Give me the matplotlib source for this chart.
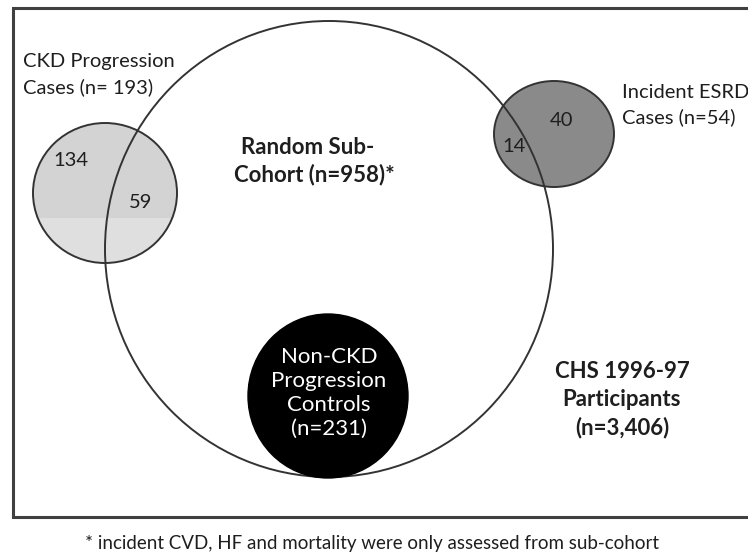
import matplotlib
matplotlib.use("Agg")
import matplotlib.pyplot as plt
from matplotlib.patches import Ellipse, Rectangle

plt.rcParams['font.family'] = ['Lato', 'DejaVu Sans']

# counts shown in the diagram
ckd_only = 134
ckd_in_subcohort = 59
esrd_in_subcohort = 14
esrd_only = 40
n_ckd = 193
n_esrd = 54
n_subcohort = 958
n_controls = 231
n_total = "3,406"
footnote = "* incident CVD, HF and mortality were only assessed from sub-cohort"

fig = plt.figure(figsize=(7.48, 5.59), dpi=100)
ax = fig.add_axes([0, 0, 1, 1])
ax.set_xlim(0, 748)
ax.set_ylim(559, 0)
ax.axis('off')

# outer frame (right side runs off the picture)
frame_col = '#404040'
ax.plot([760, 13, 13, 760], [8, 8, 517, 517], color=frame_col, lw=2.2,
        solid_joinstyle='miter')

# CKD progression circle, two tone fill
ckd = Ellipse((105, 193), 144, 140, facecolor='#dfdfdf', edgecolor='none')
ax.add_patch(ckd)
upper = Rectangle((20, 110), 180, 108, facecolor='#d3d3d3', edgecolor='none')
ax.add_patch(upper)
upper.set_clip_path(ckd)
ax.add_patch(Ellipse((105, 193), 144, 140, facecolor='none', edgecolor='#333333', lw=1.4))

# incident ESRD circle
ax.add_patch(Ellipse((554, 134), 120, 106, facecolor='#8a8a8a', edgecolor='#333333', lw=1.4))

# random sub-cohort
ax.add_patch(Ellipse((329, 249), 448, 456, facecolor='none', edgecolor='#333333', lw=1.4))

# controls
ax.add_patch(Ellipse((328, 396), 160, 164, facecolor='black', edgecolor='black', lw=1))

txt = '#1e1e1e'
fs = 14.5
fs_bold = 16
ax.text(23, 61, "CKD Progression", fontsize=fs, color=txt, va='center', ha='left')
ax.text(23, 87, f"Cases (n= {n_ckd})", fontsize=fs, color=txt, va='center', ha='left')
ax.text(622, 92, "Incident ESRD", fontsize=fs, color=txt, va='center', ha='left')
ax.text(622, 117, f"Cases (n={n_esrd})", fontsize=fs, color=txt, va='center', ha='left')

ax.text(71, 160, str(ckd_only), fontsize=fs, color=txt, ha='center', va='center')
ax.text(141, 202, str(ckd_in_subcohort), fontsize=fs, color=txt, ha='center', va='center')
ax.text(562, 121, str(esrd_only), fontsize=fs, color=txt, ha='center', va='center')
ax.text(514, 146, str(esrd_in_subcohort), fontsize=fs, color=txt, ha='center', va='center')

ax.text(308, 148, "Random Sub-", fontsize=fs_bold, fontweight='bold', color=txt,
        ha='center', va='center')
ax.text(314, 175, f"Cohort (n={n_subcohort})*", fontsize=fs_bold, fontweight='bold', color=txt,
        ha='center', va='center')

for i, line in enumerate(["Non-CKD", "Progression", "Controls", f"(n={n_controls})"]):
    ax.text(329, 357 + i * 24, line, fontsize=16, color='white', ha='center', va='center')

for i, line in enumerate(["CHS 1996-97", "Participants", f"(n={n_total})"]):
    ax.text(622, 372 + i * 28, line, fontsize=fs_bold, fontweight='bold', color=txt,
            ha='center', va='center')

ax.text(85, 543, footnote, fontsize=13.5, color=txt, ha='left', va='center')

fig.savefig('out.png', dpi=100)
